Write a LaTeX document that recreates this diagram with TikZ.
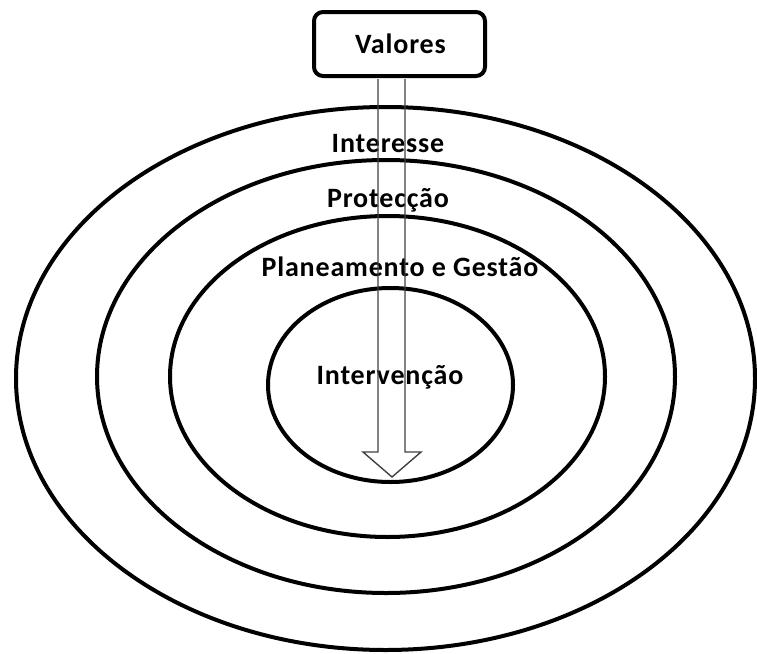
\documentclass[tikz,border=0pt]{standalone}
\usepackage{fontspec}
\setmainfont{Carlito}
\newfontfamily\labelfont[LetterSpace=3]{Carlito}
\begin{document}
\begin{tikzpicture}[x=1pt,y=1pt,
  ring/.style={draw=black,line width=4pt},
  label/.style={font=\labelfont\fontsize{28}{32}\selectfont\bfseries,inner sep=0pt},
  valuebox/.style={draw=black,line width=4pt,fill=white,rounded corners=9pt,
    minimum width=171pt,minimum height=64pt,inner sep=0pt,
    font=\labelfont\fontsize{28}{32}\selectfont\bfseries},
  hollowarrow/.style={draw=black!75,line width=1.4pt,line join=miter}]
\useasboundingbox (0,0) rectangle (757,-653);

% concentric rings (centre x, centre y, x radius, y radius)
\foreach \cx/\cy/\rx/\ry in {385.5/378.5/369.5/271.5, 386/376.5/289/216.5, 387.5/376.5/217.5/160.5, 390.5/385/122.5/97}{
  \draw[ring] (\cx,-\cy) ellipse[x radius=\rx pt,y radius=\ry pt];
}

\node[label] (interesse) at (388,-144) {Interesse};
\node[label] (proteccao) at (388,-200) {Protecção};
\node[label] (planeamento) at (400,-267) {Planeamento e Gestão};
\node[label] (intervencao) at (390,-377) {Intervenção};

\node[valuebox] (valores) at (399.5,-44) {\hspace{2pt}Valores};

% hollow arrow from the box down into the centre
\coordinate (sl) at (378,-79);
\coordinate (sr) at (405,-79);
\coordinate (tip) at (392,-477);
\draw[hollowarrow] (sl) -- (378,-452) -- (363,-452) -- (tip) -- (421,-452) -- (405,-452) -- (sr);
\end{tikzpicture}
\end{document}
